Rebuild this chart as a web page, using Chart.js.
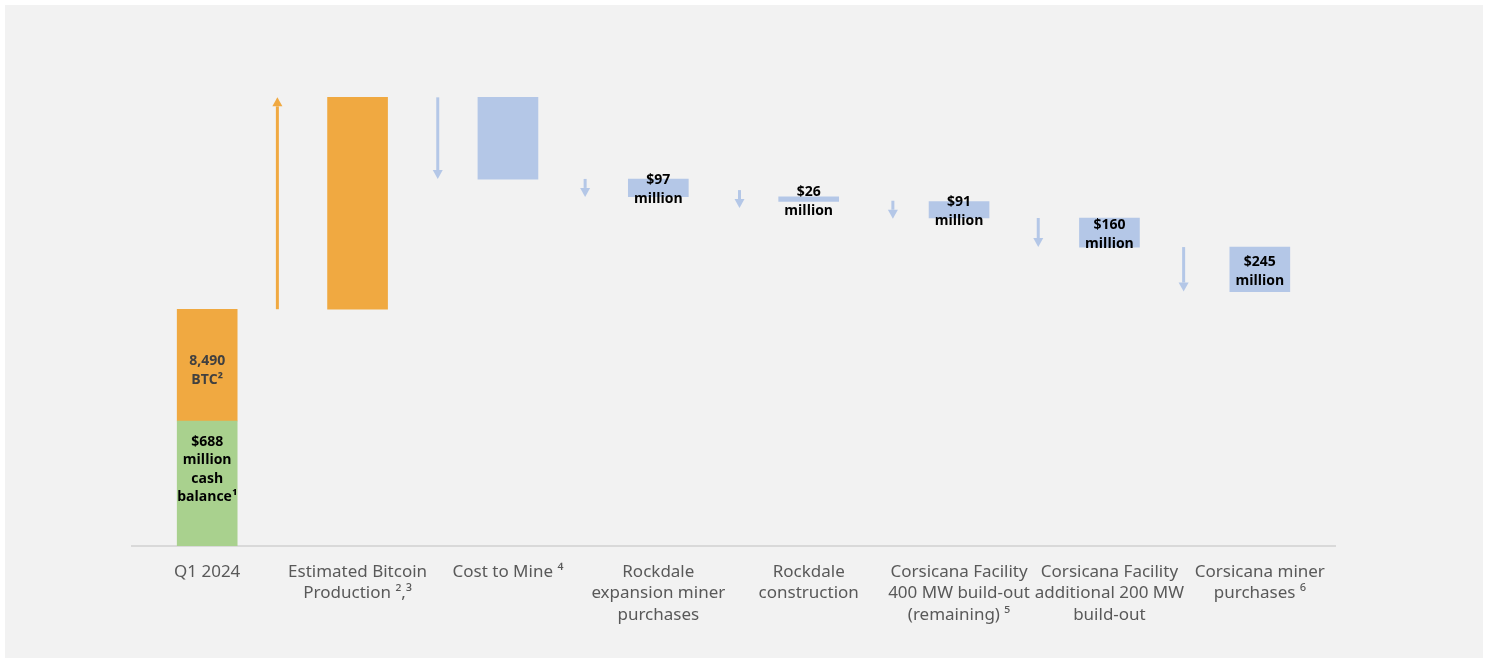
<!DOCTYPE html>
<html>
<head>
<meta charset="utf-8">
<script src="https://cdn.jsdelivr.net/npm/chart.js@4"></script>
<style>
  html, body { margin: 0; padding: 0; background: #ffffff; }
  #panel { position: absolute; left: 5px; top: 5px; width: 1478px; height: 653px; background: #f2f2f2; }
  canvas { display: block; }
</style>
</head>
<body>
<div id="panel"><canvas id="chart" width="1478" height="653"></canvas></div>
<script>
// x axis categories (multi-line)
const categories = [
  ['Q1 2024'],
  ['Estimated Bitcoin', 'Production \u00B2,\u00B3'],
  ['Cost to Mine \u2074'],
  ['Rockdale', 'expansion miner', 'purchases'],
  ['Rockdale', 'construction'],
  ['Corsicana Facility', '400 MW build-out', '(remaining) \u2075'],
  ['Corsicana Facility', 'additional 200 MW', 'build-out'],
  ['Corsicana miner', 'purchases \u2076']
];

// $ millions
const cashBalance = 688;
const btcHoldings = 615;   // 8,490 BTC, value
const changes = [1166, -450, -97, -26, -91, -160, -245];

const cashLabel = ['$688', 'million', 'cash', 'balance\u00B9'];
const btcLabel = ['8,490', 'BTC\u00B2'];
const changeLabels = [null, null, ['$97', 'million'], ['$26', 'million'], ['$91', 'million'], ['$160', 'million'], ['$245', 'million']];

const ORANGE = '#f0a941';
const GREEN = '#a9d18e';
const BLUE = '#b4c7e7';

// floating ranges for the waterfall
let level = cashBalance + btcHoldings;
const flowRanges = [[cashBalance, level]];
changes.forEach(c => {
  flowRanges.push([level, level + c]);
  level += c;
});
const flowColors = [ORANGE].concat(changes.map(c => c > 0 ? ORANGE : BLUE));
const cashData = categories.map((_, i) => i === 0 ? [0, cashBalance] : null);

const barText = {
  id: 'barText',
  afterDatasetsDraw(chart) {
    const ctx = chart.ctx;
    const cashBar = chart.getDatasetMeta(0).data[0];
    const flowBars = chart.getDatasetMeta(1).data;
    ctx.save();
    ctx.textAlign = 'center';
    ctx.textBaseline = 'middle';
    ctx.font = 'bold 14px "Open Sans"';

    const drawLines = (lines, x, cy, lh, color) => {
      ctx.fillStyle = color;
      const y0 = cy - (lines.length - 1) * lh / 2;
      lines.forEach((t, i) => ctx.fillText(t, x, y0 + i * lh));
    };

    drawLines(cashLabel, cashBar.x, (cashBar.y + cashBar.base) / 2 - 14, 18.5, '#000000');
    drawLines(btcLabel, flowBars[0].x, (flowBars[0].y + flowBars[0].base) / 2 + 5, 19, '#404040');
    changeLabels.forEach((lines, k) => {
      if (!lines) return;
      const b = flowBars[k + 1];
      drawLines(lines, b.x, (b.y + b.base) / 2 + 2, 19, '#000000');
    });
    ctx.restore();
  }
};

const arrows = {
  id: 'arrows',
  afterDatasetsDraw(chart, args, opts) {
    const ctx = chart.ctx;
    const xs = chart.scales.x, ys = chart.scales.y;
    ctx.save();
    changes.forEach((c, k) => {
      const x = (xs.getPixelForValue(k) + xs.getPixelForValue(k + 1)) / 2 + (opts.nudge[k] || 0);
      let from = ys.getPixelForValue(flowRanges[k + 1][0]);
      let to = ys.getPixelForValue(flowRanges[k + 1][1]);
      const dir = Math.sign(to - from);
      if (Math.abs(to - from) < 18) {
        const mid = (from + to) / 2;
        from = mid - dir * 9;
        to = mid + dir * 9;
      }
      const head = 9;
      const color = c > 0 ? ORANGE : BLUE;
      ctx.strokeStyle = color;
      ctx.fillStyle = color;
      ctx.lineWidth = 3;
      ctx.beginPath();
      ctx.moveTo(x, from);
      ctx.lineTo(x, to - dir * head);
      ctx.stroke();
      ctx.beginPath();
      ctx.moveTo(x, to);
      ctx.lineTo(x - 5, to - dir * head);
      ctx.lineTo(x + 5, to - dir * head);
      ctx.closePath();
      ctx.fill();
    });
    ctx.restore();
  }
};

new Chart(document.getElementById('chart'), {
  type: 'bar',
  data: {
    labels: categories,
    datasets: [
      { label: 'Cash', data: cashData, backgroundColor: GREEN, grouped: false, barThickness: 60 },
      { label: 'Flow', data: flowRanges, backgroundColor: flowColors, grouped: false, barThickness: 60 }
    ]
  },
  options: {
    responsive: false,
    animation: false,
    layout: { padding: { left: 127, right: 148, top: 40, bottom: 0 } },
    plugins: {
      legend: { display: false },
      tooltip: { enabled: false },
      // small horizontal shifts so arrows sit where the slide put them
      arrows: { nudge: [-5, 5, 2, 6, 9, 4, -1] }
    },
    scales: {
      x: {
        grid: { display: false, drawTicks: false },
        border: { display: true, color: '#d9d9d9', width: 2 },
        ticks: {
          color: '#595959',
          font: { family: '"Noto Sans"', size: 17, lineHeight: 1.27 },
          padding: 15,
          maxRotation: 0,
          autoSkip: false
        },
        afterFit(scale) { scale.height = 112; }
      },
      y: { display: false, min: 0, max: 2757 }
    }
  },
  plugins: [arrows, barText]
});
</script>
</body>
</html>
